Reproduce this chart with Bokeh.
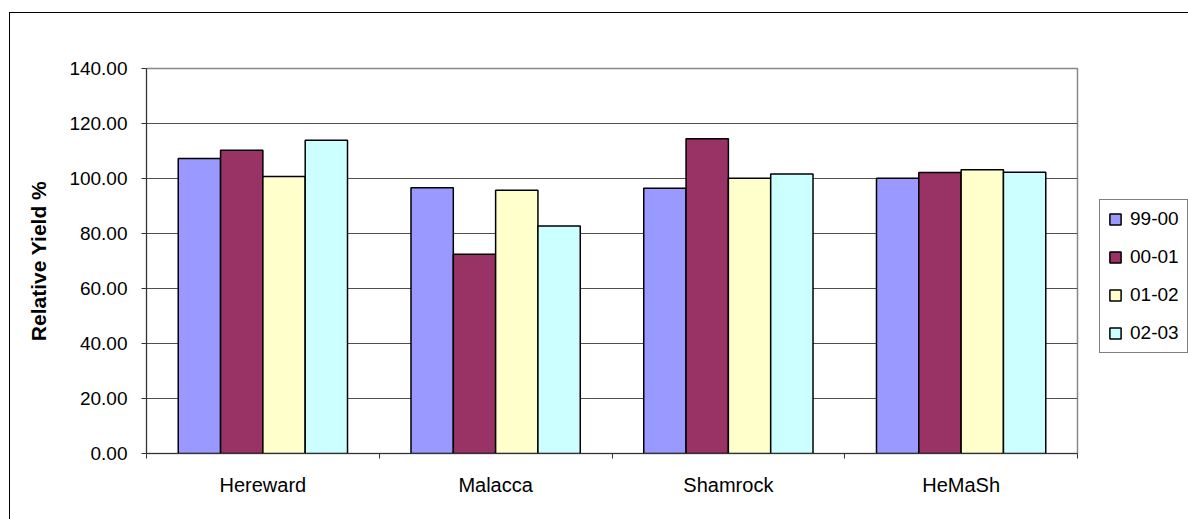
from bokeh.plotting import figure
from bokeh.models import (Range1d, FixedTicker, PrintfTickFormatter, Legend, LegendItem,
                          ColumnDataSource)
from bokeh.embed import file_html
from bokeh.resources import INLINE

categories = ["Hereward", "Malacca", "Shamrock", "HeMaSh"]
series = ["99-00", "00-01", "01-02", "02-03"]
v_99_00 = [107.3, 96.6, 96.5, 100.1]
v_00_01 = [110.3, 72.5, 114.5, 102.2]
v_01_02 = [100.7, 95.7, 100.1, 103.2]
v_02_03 = [113.9, 82.7, 101.6, 102.3]
colors = ["#9999FF", "#993366", "#FFFFCC", "#CCFFFF"]
y_ticks = [0, 20, 40, 60, 80, 100, 120, 140]

values = [v_99_00, v_00_01, v_01_02, v_02_03]
n_cat = len(categories)
n_ser = len(series)
bar_w = 1.0 / (n_ser + 1.5)  # Excel gap width 150%

FONT = "Liberation Sans"

p = figure(frame_width=931, frame_height=385, output_backend="svg", toolbar_location=None,
           x_range=Range1d(0, n_cat), y_range=Range1d(0, 140),
           min_border_left=136, min_border_right=111, min_border_top=55, min_border_bottom=66,
           background_fill_color="white", border_fill_color="white")
p.margin = (12, 0, 0, 9)
p.styles = {"border-left": "1px solid black", "border-top": "1px solid black"}

renderers = []
for j, (name, vals, col) in enumerate(zip(series, values, colors)):
    xs = [i + 0.5 + (j - (n_ser - 1) / 2) * bar_w for i in range(n_cat)]
    src = ColumnDataSource(dict(x=xs, top=vals))
    r = p.vbar(x="x", top="top", bottom=0, width=bar_w, source=src,
               fill_color=col, line_color="black", line_width=1.5)
    renderers.append((name, r))

# x axis: labels at category centres, tick marks at category boundaries
xt = FixedTicker(ticks=[i + 0.5 for i in range(n_cat)], minor_ticks=list(range(n_cat + 1)))
p.xaxis.ticker = xt
p.xaxis.major_label_overrides = {i + 0.5: c for i, c in enumerate(categories)}
p.xaxis.major_tick_line_color = None
p.xaxis.minor_tick_in = 0
p.xaxis.minor_tick_out = 5
p.xaxis.minor_tick_line_color = "#333333"
p.xaxis.axis_line_color = "#333333"
p.xaxis.major_label_text_font = FONT
p.xaxis.major_label_text_font_size = "20px"
p.xaxis.major_label_text_color = "black"
p.xaxis.major_label_standoff = 14

p.yaxis.ticker = FixedTicker(ticks=y_ticks)
p.yaxis.formatter = PrintfTickFormatter(format="%.2f")
p.yaxis.major_tick_in = 0
p.yaxis.major_tick_out = 5
p.yaxis.minor_tick_line_color = None
p.yaxis.major_tick_line_color = "#333333"
p.yaxis.axis_line_color = "#333333"
p.yaxis.major_label_text_font = FONT
p.yaxis.major_label_text_font_size = "19px"
p.yaxis.major_label_text_color = "black"
p.yaxis.major_label_standoff = 14
p.yaxis.axis_label = "Relative Yield %"
p.yaxis.axis_label_text_font = FONT
p.yaxis.axis_label_text_font_size = "21px"
p.yaxis.axis_label_text_font_style = "bold"
p.yaxis.axis_label_text_color = "black"
p.yaxis.axis_label_standoff = 16

p.xgrid.grid_line_color = None
p.ygrid.ticker = FixedTicker(ticks=y_ticks[1:-1])
p.ygrid.grid_line_color = "#505050"
p.ygrid.grid_line_width = 1

p.outline_line_color = "#888888"
p.outline_line_width = 1.5

legend = Legend(items=[LegendItem(label=n, renderers=[r]) for n, r in renderers],
                location=(22, 100), orientation="vertical",
                label_text_font=FONT, label_text_font_size="19px", label_text_color="black",
                glyph_width=14, glyph_height=14, label_height=20, spacing=16,
                padding=8, margin=0, label_standoff=8,
                border_line_color="black", border_line_width=1,
                background_fill_color="white", background_fill_alpha=1.0)
p.add_layout(legend, "right")

open("out.html", "w").write(file_html(p, INLINE))
